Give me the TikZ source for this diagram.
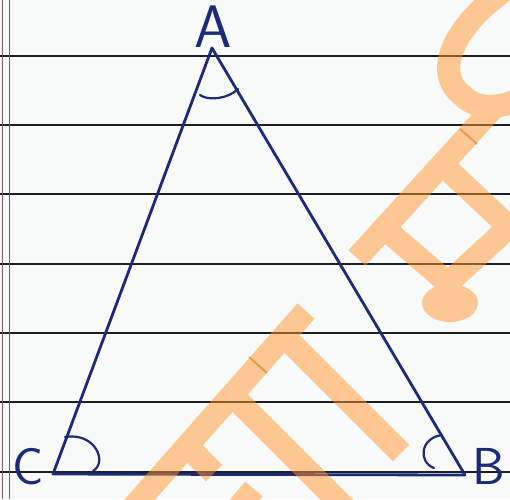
\documentclass[tikz,border=0pt]{standalone}
\usepackage{tikz}
\usetikzlibrary{calc}
\definecolor{inkblue}{HTML}{1C2A7A}
\definecolor{rulegrey}{HTML}{1E1E22}
\definecolor{marginmauve}{HTML}{7A5A6A}
\definecolor{markorange}{RGB}{255,150,45}
\definecolor{paper}{HTML}{F9FAFA}
\tikzset{
  ruling/.style={draw=rulegrey, line width=1.8pt},
  margin/.style={draw=marginmauve, line width=1pt},
  side/.style={draw=inkblue, line width=2.8pt, line join=round},
  anglemark/.style={draw=inkblue, line width=2.2pt, line cap=round},
  vlabel/.style={text=inkblue, font=\sffamily\fontsize{60}{60}\selectfont, inner sep=0pt},
  cornerlabel/.style={vlabel, font=\sffamily\fontsize{52}{52}\selectfont},
  wmark/.style={draw=markorange, line width=23pt},
  seam/.style={draw=markorange!85!black, line width=2pt, opacity=0.6}
}

\begin{document}
\begin{tikzpicture}[x=1pt,y=-1pt]
\useasboundingbox (0,0) rectangle (510,499);
\clip (0,0) rectangle (510,499);
\fill[paper] (0,0) rectangle (510,499);
% ruled paper
\foreach \yy in {56,125,194,264,333,402,472}
  \draw[ruling] (0,\yy) -- (510,\yy);
\draw[margin] (2,0) -- (2,499);
\draw[margin] (9,0) -- (9,499);
% triangle
\coordinate (A) at (212,48);
\coordinate (B) at (465,475);
\coordinate (C) at (53,474);
\draw[side] (A) -- (B) -- (C) -- cycle;
% angle marks
\draw[anglemark] (200,95) .. controls (208,101) and (228,99) .. (238,89);
\draw[anglemark] (65,437) .. controls (95,432) and (108,462) .. (93,471);
\draw[anglemark] (442,435) .. controls (420,438) and (418,462) .. (434,468);
% labels
\node[vlabel] (lA) at (213,27) {A};
\node[cornerlabel] (lC) at (28,467) {C};
\node[cornerlabel] (lB) at (489,466) {B};
% watermark
\begin{scope}[transparency group, opacity=0.5]
  \draw[wmark] (306,311) -- (113,530);
  \draw[wmark] (284,336) -- (401,453);
  \draw[wmark] (232,395) -- (350,513);
  \draw[wmark] (187,446) -- (214,473);
  \draw[wmark] (254,489) -- (232,515);
  \draw[wmark] (357,258) -- (495,106);
  \draw[wmark] (384,228) -- (448,283) -- (509,227) -- (442,164);
  \fill[markorange] (450,303) ellipse (28 and 19);
  \draw[wmark] (505,-10) .. controls (455,25) and (432,72) .. (462,95)
    .. controls (478,112) and (505,108) .. (525,96);
\end{scope}
\draw[seam] (249,357) -- (267,373);
\draw[seam] (460,129) -- (477,144);
\end{tikzpicture}
\end{document}
